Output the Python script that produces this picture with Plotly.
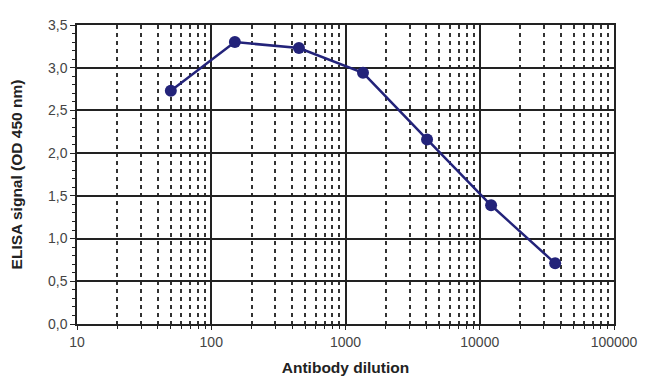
import plotly.graph_objects as go

dilution = [50, 150, 450, 1350, 4050, 12150, 36450]
signal = [2.73, 3.30, 3.23, 2.94, 2.16, 1.39, 0.71]
y_ticks = [0.0, 0.5, 1.0, 1.5, 2.0, 2.5, 3.0, 3.5]
x_ticks = [10, 100, 1000, 10000, 100000]

fig = go.Figure()
fig.add_trace(go.Scatter(
    x=dilution, y=signal, mode="lines+markers",
    line=dict(color="#23237a", width=2.5),
    marker=dict(color="#23237a", size=12),
    showlegend=False,
))

fig.update_layout(
    width=650, height=389,
    margin=dict(l=69, r=44, t=17, b=73),
    paper_bgcolor="white", plot_bgcolor="white",
    separators=",.",
    font=dict(family="Liberation Sans, Arial, sans-serif", size=12, color="#333333"),
)
fig.update_xaxes(
    type="log", range=[1, 5], automargin=False,
    tickvals=x_ticks, ticktext=[str(v) for v in x_ticks],
    showgrid=True, gridcolor="#222222", gridwidth=1.5,
    showline=True, linecolor="#222222", linewidth=1.5, mirror=True,
    ticks="outside", ticklen=4, tickcolor="#222222",
    tickfont=dict(size=14, color="#444444"),
    minor=dict(dtick="D1", showgrid=True, gridcolor="#333333", gridwidth=1.5,
               griddash="4px,4px", ticks="outside", ticklen=3, tickcolor="#222222"),
    title=dict(text="<b>Antibody dilution</b>", font=dict(size=15.5, color="#222222"), standoff=14),
    zeroline=False,
)
fig.update_yaxes(
    range=[0, 3.5], tickvals=y_ticks, tickformat=".1f", automargin=False,
    showgrid=True, gridcolor="#222222", gridwidth=1.5,
    showline=True, linecolor="#222222", linewidth=1.5, mirror=True,
    ticks="outside", ticklen=5, tickcolor="#222222",
    tickfont=dict(size=14, color="#444444"),
    minor=dict(dtick=0.1, ticks="outside", ticklen=3, tickcolor="#222222", showgrid=False),
    title=dict(text="<b>ELISA signal (OD 450 nm)</b>", font=dict(size=15.5, color="#222222"), standoff=22),
    zeroline=False,
)

fig.write_html("out.html")
